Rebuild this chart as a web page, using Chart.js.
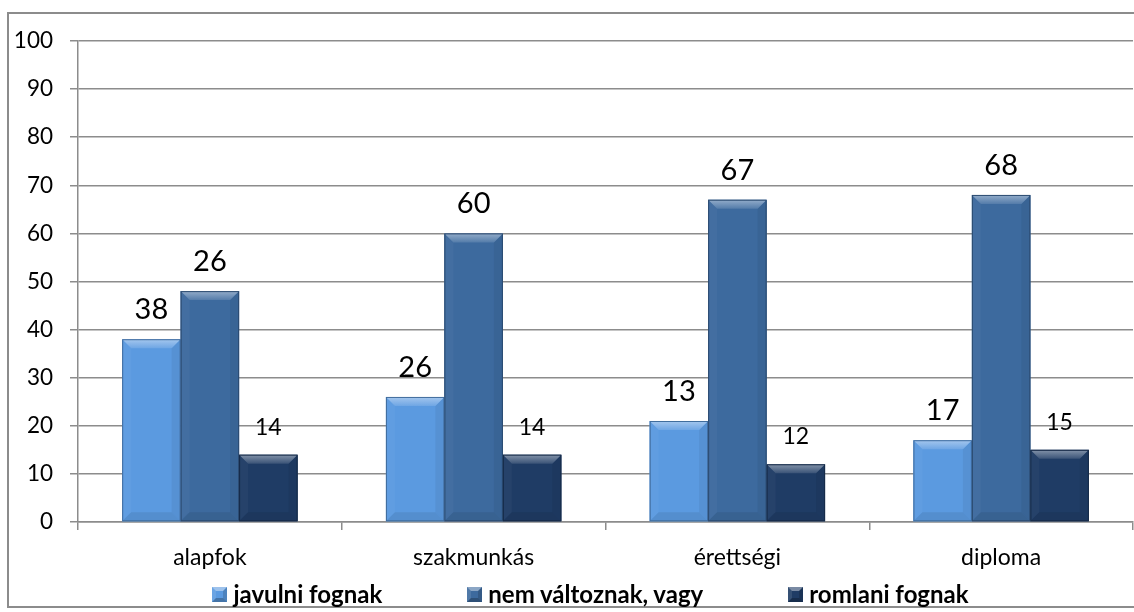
<!DOCTYPE html>
<html>
<head>
    <meta charset="UTF-8">
    <title>Várakozások iskolai végzettség szerint</title>
    <script src="https://cdn.jsdelivr.net/npm/chart.js"></script>
    <style>
        html, body { margin: 0; padding: 0; background: #fff; }
        #wrap { position: relative; width: 1134px; height: 612px; }
        #legend {
            position: absolute; top: 580px; left: 48px; width: 1085px;
            display: flex; justify-content: center; gap: 85px;
            font-family: Lato, sans-serif; font-weight: bold; font-size: 24px; color: #000;
        }
        #legend .item { display: flex; align-items: center; line-height: 28px; }
        #legend .mark {
            display: inline-block; width: 7px; height: 7px; border: 4px solid; margin-right: 6px;
        }
    </style>
</head>
<body>
    <div id="wrap">
        <canvas id="chart" width="1134" height="612"></canvas>
        <div id="legend"></div>
    </div>

    <script>
        // kategóriák és sorozatok
        const kategoriak = ['alapfok', 'szakmunkás', 'érettségi', 'diploma'];
        const sorozatNevek = ['javulni fognak', 'nem változnak, vagy', 'romlani fognak'];

        // oszlopmagasságok
        const javulni = [38, 26, 21, 17];
        const nemValtoznak = [48, 60, 67, 68];
        const romlani = [14, 14, 12, 15];

        // az oszlopok feletti feliratok (az eredetiben nem mindig egyeznek a magassággal)
        const javulniFelirat = ['38', '26', '13', '17'];
        const nemValtoznakFelirat = ['26', '60', '67', '68'];
        const romlaniFelirat = ['14', '14', '12', '15'];

        const szinek = ['#5b9ae0', '#3d6a9e', '#1f3c65'];
        const racsSzin = '#8c8c8c';

        function arnyal(hex, m) {
            const n = parseInt(hex.slice(1), 16);
            const f = c => m >= 0 ? Math.round(c + (255 - c) * m) : Math.round(c * (1 + m));
            return 'rgb(' + f(n >> 16) + ',' + f((n >> 8) & 255) + ',' + f(n & 255) + ')';
        }

        function sokszog(ctx, pts, fill) {
            ctx.beginPath();
            ctx.moveTo(pts[0][0], pts[0][1]);
            for (let i = 1; i < pts.length; i++) ctx.lineTo(pts[i][0], pts[i][1]);
            ctx.closePath();
            ctx.fillStyle = fill;
            ctx.fill();
        }

        // keret a diagram körül
        const keret = {
            id: 'keret',
            beforeDraw(chart) {
                const ctx = chart.ctx;
                ctx.save();
                ctx.strokeStyle = racsSzin;
                ctx.lineWidth = 2;
                ctx.strokeRect(8, 13, 1130, 594);
                ctx.restore();
            }
        };

        // domború (bevel) oszlopok + feliratok
        const domboru = {
            id: 'domboru',
            afterDatasetsDraw(chart) {
                const ctx = chart.ctx;
                ctx.save();
                chart.data.datasets.forEach((ds, i) => {
                    const c = ds.backgroundColor;
                    chart.getDatasetMeta(i).data.forEach((bar, j) => {
                        const p = bar.getProps(['x', 'y', 'base', 'width'], true);
                        const l = p.x - p.width / 2, r = p.x + p.width / 2, t = p.y, b = p.base;
                        const s = Math.min(9, (b - t) / 2);
                        const g = ctx.createLinearGradient(0, t, 0, t + s);
                        g.addColorStop(0, arnyal(c, 0.45));
                        g.addColorStop(1, arnyal(c, 0.12));
                        sokszog(ctx, [[l, t], [l + s, t + s], [l + s, b - s], [l, b]], arnyal(c, 0.03));
                        sokszog(ctx, [[r, t], [r - s, t + s], [r - s, b - s], [r, b]], arnyal(c, -0.06));
                        sokszog(ctx, [[l, b], [l + s, b - s], [r - s, b - s], [r, b]], arnyal(c, -0.08));
                        sokszog(ctx, [[l, t], [r, t], [r - s, t + s], [l + s, t + s]], g);
                        ctx.strokeStyle = arnyal(c, -0.3);
                        ctx.lineWidth = 1;
                        ctx.strokeRect(l + 0.5, t + 0.5, p.width - 1, b - t - 1);

                        ctx.fillStyle = '#000';
                        ctx.font = ds.feliratMeret + 'px Lato, sans-serif';
                        ctx.textAlign = 'center';
                        ctx.textBaseline = 'alphabetic';
                        ctx.fillText(ds.feliratok[j], p.x, t - 20);
                    });
                });
                ctx.restore();
            }
        };

        const adatok = [javulni, nemValtoznak, romlani];
        const feliratok = [javulniFelirat, nemValtoznakFelirat, romlaniFelirat];
        const meretek = [29, 29, 23];

        const datasets = sorozatNevek.map((nev, i) => ({
            label: nev,
            data: adatok[i],
            backgroundColor: szinek[i],
            borderWidth: 0,
            categoryPercentage: 0.665,
            barPercentage: 1.0,
            feliratok: feliratok[i],
            feliratMeret: meretek[i]
        }));

        const ctx = document.getElementById('chart').getContext('2d');
        new Chart(ctx, {
            type: 'bar',
            data: { labels: kategoriak, datasets: datasets },
            options: {
                responsive: false,
                animation: false,
                layout: { padding: { top: 41, left: 8, right: 1, bottom: 0 } },
                plugins: {
                    legend: { display: false },
                    tooltip: { enabled: false }
                },
                scales: {
                    x: {
                        afterFit: s => { s.height = 90; },
                        grid: {
                            drawOnChartArea: false, drawTicks: true, tickLength: 8,
                            color: racsSzin, lineWidth: 1.5
                        },
                        border: { color: racsSzin, width: 1.5 },
                        ticks: {
                            color: '#000', padding: 14,
                            font: { family: 'Lato, sans-serif', size: 23 }
                        }
                    },
                    y: {
                        min: 0, max: 100,
                        afterFit: s => { s.width = 70; },
                        grid: { color: racsSzin, lineWidth: 1.5, tickLength: 8 },
                        border: { color: racsSzin, width: 1.5 },
                        ticks: {
                            stepSize: 10, color: '#000', padding: 17,
                            font: { family: 'Lato, sans-serif', size: 22.5 }
                        }
                    }
                }
            },
            plugins: [keret, domboru]
        });

        // jelmagyarázat
        const legend = document.getElementById('legend');
        sorozatNevek.forEach((nev, i) => {
            const c = szinek[i];
            const item = document.createElement('div');
            item.className = 'item';
            const m = document.createElement('span');
            m.className = 'mark';
            m.style.background = c;
            m.style.borderColor = arnyal(c, 0.4) + ' ' + arnyal(c, -0.15) + ' ' + arnyal(c, -0.25) + ' ' + arnyal(c, 0.1);
            const t = document.createElement('span');
            t.textContent = nev;
            item.appendChild(m);
            item.appendChild(t);
            legend.appendChild(item);
        });
    </script>
</body>
</html>
